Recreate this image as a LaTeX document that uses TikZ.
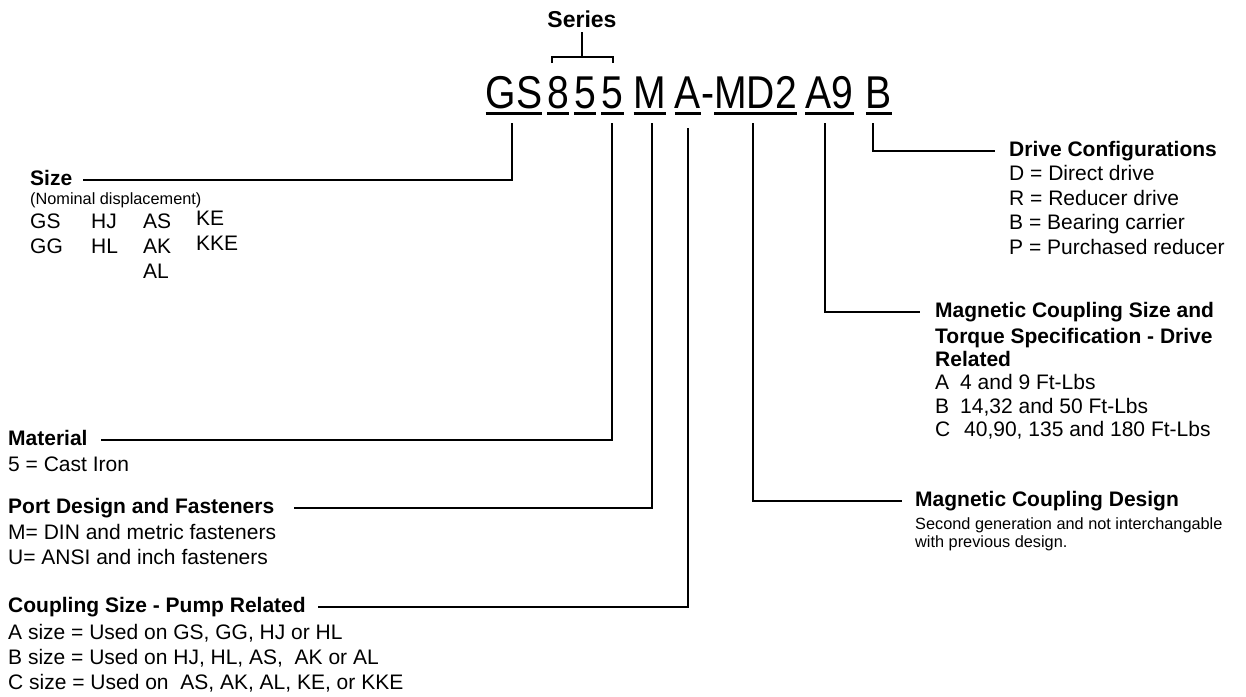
\documentclass[tikz,border=0pt]{standalone}
\usepackage{fontspec}
\setmainfont{Liberation Sans}
\newfontfamily\codefont[FakeStretch=0.85]{Liberation Sans}
\usetikzlibrary{positioning}

\tikzset{
  code/.style={font=\codefont\fontsize{46}{50}\selectfont, inner sep=0pt, anchor=base},
  uline/.style={line width=2.6pt},
  conn/.style={line width=2pt},
  brk/.style={line width=1.3pt},
  ttl/.style={font=\bfseries\fontsize{21}{25}\selectfont, inner sep=0pt, anchor=base west,
    text height=15pt, text depth=4pt},
  body/.style={font=\fontsize{21}{25}\selectfont, inner sep=0pt, anchor=north west, align=left},
  small/.style={font=\fontsize{16.3}{18.5}\selectfont, inner sep=0pt, anchor=north west, align=left}
}

\begin{document}
\begin{tikzpicture}[x=1pt,y=-1pt]
\useasboundingbox (0,0) rectangle (1246,696);

% Part number, piece by piece
\node[code] (gs)    at (514,108)   {GS};
\node[code] (eight) at (558,108)   {8};
\node[code] (fivea) at (585,108)   {5};
\node[code] (fiveb) at (612.5,108) {5};
\node[code] (port)  at (650,108)   {M};
\node[code] (coup)  at (688,108)   {A};
\node[code] (dash)  at (707.5,108) {-};
\node[code] (mag)   at (755.5,108) {MD2};
\node[code] (torq)  at (829.5,108) {A9};
\node[code] (drv)   at (879,108)   {B};

% Underlines
\foreach \n in {gs,eight,fivea,fiveb,port,coup,mag,torq,drv}
  \draw[uline] ([yshift=-5.5pt]\n.base west) -- ([yshift=-5.5pt]\n.base east);

% Series bracket
\node[font=\bfseries\fontsize{23}{28}\selectfont, inner sep=0pt] (series) at (582,19.5) {Series};
\coordinate (brkmid) at (582,57);
\draw[brk] (552,63) -- (552,57) -- (613,57) -- (613,63);
\draw[brk] ([yshift=-4pt]series.south) -- (brkmid);

% Size
\node[ttl] (size) at (30,185.5) {Size};
\node[small] (nom) at (30,192) {(Nominal displacement)};
\node[body] (colg) at (30,213.5)  {GS\\GG};
\node[body] (colh) at (91,213.5)  {HJ\\HL};
\node[body] (cola) at (143,213.5) {AS\\AK\\AL};
\node[body] (colk) at (196,210.5) {KE\\KKE};
\draw[conn] ([xshift=-2pt,yshift=-15pt]gs.base) |- ([xshift=11pt]size.east);

% Material
\node[ttl] (mat) at (8,445) {Material};
\node[body] (matb) at (8,456.5) {5 = Cast Iron};
\draw[conn] ([xshift=-1pt,yshift=-15pt]fiveb.base) |- ([xshift=13pt]mat.east);

% Port design and fasteners
\node[ttl] (portt) at (8,513) {Port Design and Fasteners};
\node[body] (portb) at (8,524.5) {M= DIN and metric fasteners\\U= ANSI and inch fasteners};
\draw[conn] ([xshift=2pt,yshift=-15pt]port.base) |- ([xshift=20pt]portt.east);

% Coupling size, pump side
\node[ttl] (coupt) at (8,612) {Coupling Size - Pump Related};
\node[body] (coupb) at (8,624.5) {A size = Used on GS, GG, HJ or HL\\B size = Used on HJ, HL, AS,\ \ AK or AL\\C size = Used on\ \ AS, AK, AL, KE, or KKE};
\draw[conn] ([yshift=-20pt]coup.base) |- ([xshift=12pt]coupt.east);

% Drive configurations
\node[ttl] (drvt) at (1009,156) {Drive Configurations};
\node[body, font=\fontsize{21}{24.5}\selectfont] (drvb) at (1009,165.5) {D = Direct drive\\R = Reducer drive\\B = Bearing carrier\\P = Purchased reducer};
\draw[conn] ([xshift=-6pt,yshift=-15pt]drv.base) |- ([xshift=-14pt]drvt.west);

% Magnetic coupling size and torque
\node[ttl] (torqt) at (935,317) {Magnetic Coupling Size and};
\node[body, font=\bfseries\fontsize{21}{23.3}\selectfont] (torqs) at (935,327.8) {Torque Specification - Drive\\Related};
\node[body, font=\fontsize{21}{23.3}\selectfont] (torqb) at (935,374.4)
  {\makebox[25pt][l]{A}4 and 9 Ft-Lbs\\\makebox[25pt][l]{B}14,32 and 50 Ft-Lbs\\\makebox[29pt][l]{C}40,90, 135 and 180 Ft-Lbs};
\draw[conn] ([xshift=-5pt,yshift=-15pt]torq.base) |- ([xshift=-15pt]torqt.west);

% Magnetic coupling design
\node[ttl] (magt) at (915,506) {Magnetic Coupling Design};
\node[small] (magb) at (915,517) {Second generation and not interchangable\\with previous design.};
\draw[conn] ([xshift=-3pt,yshift=-15pt]mag.base) |- ([xshift=-13pt]magt.west);

\end{tikzpicture}
\end{document}
